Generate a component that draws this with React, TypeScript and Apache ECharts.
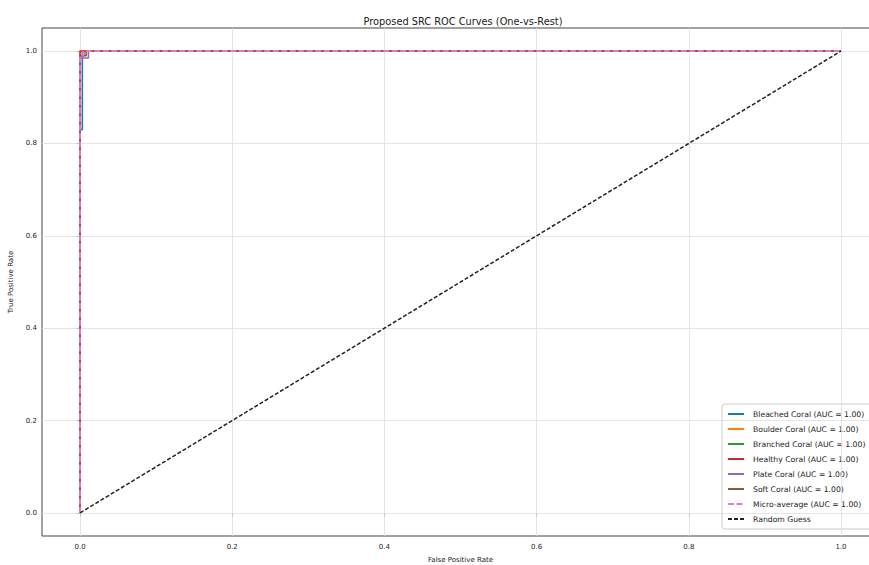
import React, { useEffect, useRef } from "react";
import * as echarts from "echarts";

const seriesNames = [
  "Bleached Coral (AUC = 1.00)",
  "Boulder Coral (AUC = 1.00)",
  "Branched Coral (AUC = 1.00)",
  "Healthy Coral (AUC = 1.00)",
  "Plate Coral (AUC = 1.00)",
  "Soft Coral (AUC = 1.00)",
  "Micro-average (AUC = 1.00)",
  "Random Guess",
];
const seriesColors = ["#1f77b4", "#ff7f0e", "#2ca02c", "#d62728", "#9467bd", "#8c564b", "#e377c2", "#222222"];

const bleached = [[0, 0], [0, 0.83], [0.003, 0.83], [0.003, 1], [1, 1]];
const boulder = [[0, 0], [0, 1], [1, 1]];
const branched = [[0, 0], [0, 0.99], [0.005, 0.99], [0.005, 1], [1, 1]];
const healthy = [[0, 0], [0, 1], [1, 1]];
const plate = [[0, 0], [0, 0.985], [0.011, 0.985], [0.011, 1], [1, 1]];
const soft = [[0, 0], [0, 0.99], [0.008, 0.99], [0.008, 1], [1, 1]];
const micro = [[0, 0], [0, 0.99], [0.004, 0.99], [0.004, 1], [1, 1]];
const randomGuess = [[0, 0], [1, 1]];

const xTicks = [0, 0.2, 0.4, 0.6, 0.8, 1.0];
const yTicks = [0, 0.2, 0.4, 0.6, 0.8, 1.0];

const App = () => {
  const ref = useRef<HTMLDivElement>(null);
  useEffect(() => {
    document.body.style.margin = "0";
    const chart = echarts.init(ref.current!, null, { renderer: "svg" });
    const datas = [bleached, boulder, branched, healthy, plate, soft, micro, randomGuess];
    const txt = "#222";
    const font = "DejaVu Sans";
    const series: any[] = [
      {
        type: "line",
        name: "__grid",
        data: [],
        silent: true,
        z: 1,
        markLine: {
          silent: true,
          symbol: "none",
          animation: false,
          label: { show: false },
          lineStyle: { color: "#dedede", width: 0.8, type: "solid" },
          data: [
            ...xTicks.map((v) => ({ xAxis: v })),
            ...yTicks.map((v) => ({ yAxis: v })),
          ],
        },
      },
    ];
    datas.forEach((d, i) => {
      const isMicro = i === 6;
      const isRandom = i === 7;
      series.push({
        type: "line",
        name: seriesNames[i],
        data: d,
        symbol: "none",
        z: 2 + i,
        color: seriesColors[i],
        lineStyle: {
          color: seriesColors[i],
          width: isMicro ? 2 : isRandom ? 1.5 : 1.6,
          type: isMicro ? [6, 2.5] : isRandom ? [4, 2] : "solid",
        },
      });
    });
    chart.setOption({
      animation: false,
      title: {
        text: "Proposed SRC ROC Curves (One-vs-Rest)",
        left: 458,
        top: 11,
        textAlign: "center",
        textStyle: { fontFamily: font, fontSize: 9.8, fontWeight: "normal", color: txt },
      },
      grid: {
        left: 42,
        top: 28,
        width: 837,
        height: 508,
        outerBoundsMode: "none",
        containLabel: false,
        show: true,
        borderColor: "#444",
        borderWidth: 1,
        backgroundColor: "transparent",
      },
      xAxis: {
        type: "value",
        min: -0.05,
        max: 1.05,
        name: "False Positive Rate",
        nameLocation: "middle",
        nameGap: 20,
        nameTextStyle: { fontFamily: font, fontSize: 7, color: txt },
        axisLine: { show: false },
        splitLine: { show: false },
        axisTick: { show: true, customValues: xTicks, length: 3.5, lineStyle: { color: "#444" } },
        axisLabel: {
          customValues: xTicks,
          formatter: (v: number) => v.toFixed(1),
          fontFamily: font,
          fontSize: 7,
          color: txt,
          margin: 7,
        },
      },
      yAxis: {
        type: "value",
        min: -0.05,
        max: 1.05,
        name: "True Positive Rate",
        nameLocation: "middle",
        nameGap: 22,
        nameTextStyle: { fontFamily: font, fontSize: 7, color: txt },
        axisLine: { show: false },
        splitLine: { show: false },
        axisTick: { show: true, customValues: yTicks, length: 3.5, lineStyle: { color: "#444" } },
        axisLabel: {
          customValues: yTicks,
          formatter: (v: number) => v.toFixed(1),
          fontFamily: font,
          fontSize: 7,
          color: txt,
          margin: 5,
        },
      },
      legend: {
        data: seriesNames,
        orient: "vertical",
        left: 722,
        top: 404,
        itemWidth: 16,
        itemHeight: 8,
        itemGap: 5,
        padding: [5, 8, 5, 5],
        backgroundColor: "rgba(255,255,255,0.85)",
        borderColor: "#cccccc",
        borderWidth: 1,
        borderRadius: 3,
        itemStyle: { opacity: 0 },
        textStyle: { fontFamily: font, fontSize: 7.7, lineHeight: 10, color: txt, padding: [0, 0, 0, 4] },
      },
      series,
    });
    return () => chart.dispose();
  }, []);
  return <div ref={ref} style={{ width: 869, height: 565 }} />;
};

export default App;
